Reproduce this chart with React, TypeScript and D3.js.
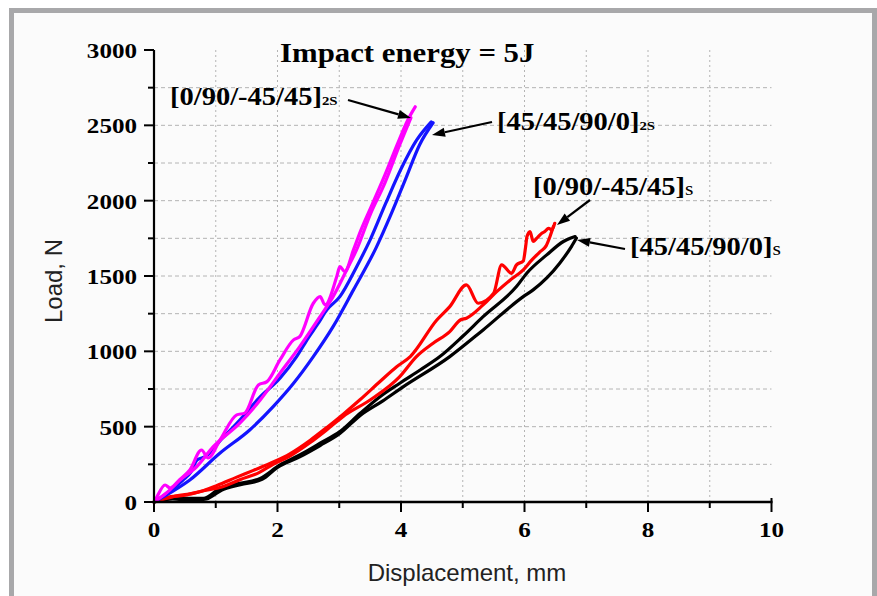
import React from "react";
import * as d3 from "d3";

type Pt = [number, number];

// Displacement (mm), Load (N)
const layup2S_0_90_a: Pt[] = [[0,0],[0.02,13],[0.18,113],[0.26,93],[0.42,150],[0.58,212],[0.77,345],[0.875,292],[1.07,412],[1.34,578],[1.47,590],[1.69,777],[1.83,799],[2.04,943],[2.26,1076],[2.36,1098],[2.58,1319],[2.69,1363],[2.77,1308],[2.96,1496],[3.01,1562],[3.09,1529],[3.23,1673],[3.34,1793],[3.53,1972],[3.74,2171],[3.95,2384],[4.11,2536],[4.23,2623]];
const layup2S_0_90_b: Pt[] = [[0,0],[0.2,60],[0.42,146],[0.69,234],[0.96,367],[1.39,523],[1.72,677],[2.04,855],[2.36,1031],[2.69,1231],[2.9,1363],[3.12,1540],[3.28,1673],[3.5,1906],[3.74,2118],[3.98,2371],[4.16,2550]];
const layup2S_45_45_a: Pt[] = [[0,0],[0.3,70],[0.58,146],[1.07,325],[1.55,478],[1.93,633],[2.26,788],[2.58,965],[2.9,1164],[3.23,1408],[3.6,1690],[3.85,1920],[4.08,2150],[4.3,2370],[4.52,2517]];
const layup2S_45_45_b: Pt[] = [[0,0],[0.2,55],[0.47,146],[0.6,200],[0.7,280],[0.83,301],[1.1,420],[1.39,544],[1.7,690],[2.04,822],[2.31,965],[2.5,1090],[2.65,1180],[2.8,1275],[3.01,1363],[3.28,1560],[3.5,1740],[3.75,1980],[4.0,2210],[4.25,2400],[4.49,2523]];
const layupS_0_90_a: Pt[] = [[0,0],[0.31,35],[0.74,68],[1.02,110],[1.34,165],[1.61,210],[1.93,265],[2.2,320],[2.53,410],[2.8,495],[3.07,585],[3.34,680],[3.66,800],[3.93,898],[4.15,965],[4.58,1208],[4.79,1297],[5.06,1441],[5.25,1319],[5.5,1386],[5.63,1574],[5.79,1518],[5.87,1574],[5.98,1600],[6.02,1700],[6.04,1762],[6.09,1795],[6.14,1729],[6.2,1751],[6.28,1784],[6.33,1795],[6.39,1817],[6.44,1806],[6.49,1850]];
const layupS_0_90_b: Pt[] = [[0,0],[0.2,30],[0.5,45],[0.8,75],[1.1,100],[1.4,150],[1.7,195],[1.93,250],[2.2,305],[2.53,395],[2.8,480],[3.07,570],[3.5,677],[3.98,832],[4.25,965],[4.52,1054],[4.79,1131],[4.96,1208],[5.06,1220],[5.33,1308],[5.55,1396],[5.77,1474],[5.98,1541],[6.12,1607],[6.25,1660],[6.35,1700],[6.42,1770],[6.47,1830]];
const layupS_45_45_a: Pt[] = [[0,0],[0.31,24],[0.8,24],[1.07,91],[1.39,124],[1.72,157],[2.04,246],[2.36,312],[2.69,390],[3.01,467],[3.34,589],[3.66,699],[3.98,788],[4.31,876],[4.63,965],[5.0,1100],[5.33,1230],[5.87,1430],[6.04,1520],[6.36,1640],[6.63,1729],[6.74,1751],[6.82,1762]];
const layupS_45_45_b: Pt[] = [[0,0],[0.3,20],[0.6,10],[0.85,20],[1.1,80],[1.4,115],[1.75,150],[2.0,230],[2.36,300],[2.69,375],[3.01,455],[3.34,575],[3.7,670],[4.04,766],[4.79,965],[5.33,1142],[5.98,1363],[6.14,1408],[6.57,1585],[6.76,1695],[6.84,1751]];

const xTicks = [0, 2, 4, 6, 8, 10];
const yTicks = [0, 500, 1000, 1500, 2000, 2500, 3000];
const xMinor = [1, 3, 5, 7, 9];
const yMinor = [250, 750, 1250, 1750, 2250, 2750];

const seriesList = [
  { data: layupS_45_45_a, color: "#000000" },
  { data: layupS_45_45_b, color: "#000000" },
  { data: layupS_0_90_b, color: "#ff0000" },
  { data: layupS_0_90_a, color: "#ff0000" },
  { data: layup2S_45_45_a, color: "#1414ff" },
  { data: layup2S_45_45_b, color: "#1414ff" },
  { data: layup2S_0_90_b, color: "#ff00ff" },
  { data: layup2S_0_90_a, color: "#ff00ff" },
];

const SERIF = "'Liberation Serif', 'Times New Roman', serif";
const SANS = "'Liberation Sans', Arial, sans-serif";
const SX = 1.14;

function Arrow({ x1, y1, x2, y2 }: { x1: number; y1: number; x2: number; y2: number }) {
  const ang = Math.atan2(y2 - y1, x2 - x1);
  const L = 13, W = 4.5;
  const bx = x2 - L * Math.cos(ang), by = y2 - L * Math.sin(ang);
  const px = -Math.sin(ang) * W, py = Math.cos(ang) * W;
  return (
    <g>
      <line x1={x1} y1={y1} x2={bx} y2={by} stroke="#000" strokeWidth={2.2} />
      <path d={`M${x2},${y2}L${bx + px},${by + py}L${bx - px},${by - py}Z`} fill="#000" />
    </g>
  );
}

function Label({ x, y, main, sub, subSize, subWeight }: { x: number; y: number; main: string; sub: string; subSize: number; subWeight: string }) {
  return (
    <text transform={`translate(${x},${y}) scale(${SX},1)`} fontFamily={SERIF} fontWeight="bold" fontSize={25} fill="#000">
      {main}
      <tspan fontSize={subSize} fontWeight={subWeight}>{sub}</tspan>
    </text>
  );
}

export default function App() {
  const x = d3.scaleLinear().domain([0, 10]).range([154, 771.5]);
  const y = d3.scaleLinear().domain([0, 3000]).range([502, 50]);
  const line = d3.line<Pt>().x((d) => x(d[0])).y((d) => y(d[1])).curve(d3.curveMonotoneX);

  return (
    <div style={{ position: "absolute", left: 0, top: 0 }}>
      <svg width={877} height={596} style={{ display: "block", background: "#ffffff" }}>
        <rect x={11.5} y={10.5} width={863} height={640} fill="#fbfbfb" stroke="#a8a8aa" strokeWidth={5} />
        {/* grid */}
        {d3.range(250, 3000, 250).map((v) => (
          <line key={"h" + v} x1={x(0)} x2={x(10)} y1={y(v)} y2={y(v)} stroke="#b4b4b4" strokeWidth={1} strokeDasharray="4,3" />
        ))}
        {d3.range(1, 10, 1).map((v) => (
          <line key={"v" + v} x1={x(v)} x2={x(v)} y1={y(3000)} y2={y(0)} stroke="#b4b4b4" strokeWidth={1} strokeDasharray="2,3" />
        ))}
        {/* curves */}
        {seriesList.map((s, i) => (
          <path key={i} d={line(s.data) || ""} fill="none" stroke={s.color} strokeWidth={3.2} strokeLinejoin="round" strokeLinecap="round" />
        ))}
        {/* axes */}
        <line x1={x(0)} x2={x(0)} y1={y(3000)} y2={y(0) + 1} stroke="#000" strokeWidth={2.2} />
        <line x1={x(0) - 1} x2={x(10) + 1} y1={y(0)} y2={y(0)} stroke="#000" strokeWidth={2.5} />
        {yTicks.map((v) => (
          <g key={"yt" + v}>
            <line x1={x(0) - 10} x2={x(0)} y1={y(v)} y2={y(v)} stroke="#000" strokeWidth={2} />
            <text transform={`translate(137,${y(v) + 8}) scale(${SX},1)`} textAnchor="end" fontFamily={SERIF} fontWeight="bold" fontSize={22}>{v}</text>
          </g>
        ))}
        {yMinor.map((v) => (
          <line key={"ym" + v} x1={x(0) - 6} x2={x(0)} y1={y(v)} y2={y(v)} stroke="#000" strokeWidth={2} />
        ))}
        {xTicks.map((v) => (
          <g key={"xt" + v}>
            <line x1={x(v)} x2={x(v)} y1={y(0)} y2={y(0) + 10} stroke="#000" strokeWidth={2} />
            <text transform={`translate(${x(v)},537) scale(${SX},1)`} textAnchor="middle" fontFamily={SERIF} fontWeight="bold" fontSize={22}>{v}</text>
          </g>
        ))}
        <line x1={x(10)} x2={x(10)} y1={y(0) - 4} y2={y(0)} stroke="#000" strokeWidth={2} />
        {xMinor.map((v) => (
          <line key={"xm" + v} x1={x(v)} x2={x(v)} y1={y(0)} y2={y(0) + 6} stroke="#000" strokeWidth={2} />
        ))}
        {/* axis titles */}
        <text x={467} y={581} textAnchor="middle" fontFamily={SANS} fontSize={24} fill="#222">Displacement, mm</text>
        <text transform="translate(62,281) rotate(-90)" textAnchor="middle" fontFamily={SANS} fontSize={24} fill="#222">Load, N</text>
        {/* title */}
        <text transform={`translate(280,62) scale(1.12,1)`} fontFamily={SERIF} fontWeight="bold" fontSize={27.5}>Impact energy = 5J</text>
        {/* annotations */}
        <Label x={170} y={105} main="[0/90/-45/45]" sub="2S" subSize={13} subWeight="bold" />
        <Arrow x1={348} y1={100} x2={411} y2={118} />
        <Label x={497} y={130} main="[45/45/90/0]" sub="2S" subSize={13} subWeight="bold" />
        <Arrow x1={492} y1={122} x2={432} y2={135} />
        <Label x={533} y={195} main="[0/90/-45/45]" sub="s" subSize={19} subWeight="normal" />
        <Arrow x1={590} y1={200} x2={557} y2={225} />
        <Label x={630} y={255} main="[45/45/90/0]" sub="s" subSize={19} subWeight="normal" />
        <Arrow x1={625} y1={249} x2={577} y2={240} />
      </svg>
    </div>
  );
}
